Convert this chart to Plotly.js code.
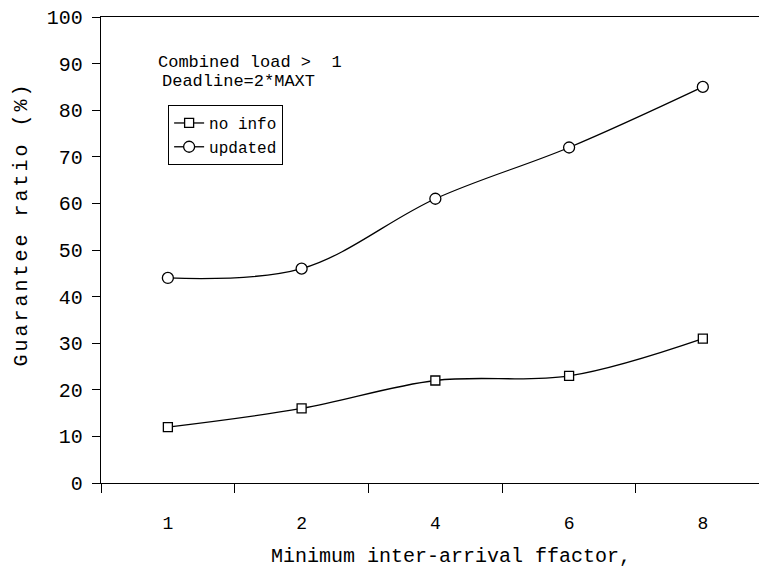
<!DOCTYPE html>
<html>
<head>
<meta charset="utf-8">
<script src="https://cdn.plot.ly/plotly-3.0.1.min.js"></script>
<style>
  html, body { margin: 0; padding: 0; background: #fff; }
  #chart { width: 759px; height: 569px; }
</style>
</head>
<body>
<div id="chart"></div>
<script>
// Minimum inter-arrival factor categories
const factors = ['1', '2', '4', '6', '8'];
// Guarantee ratio (%) per policy
const noInfo = [12, 16, 22, 23, 31];
const updated = [44, 46, 61, 72, 85];
const seriesNames = ['no info', 'updated'];

const FONT = '"Liberation Mono", "Courier New", monospace';

const lineStyle = { color: '#000', width: 1.3, shape: 'spline', smoothing: 1 };

const traces = [
  {
    x: factors, y: noInfo, name: seriesNames[0],
    type: 'scatter', mode: 'lines+markers',
    line: lineStyle,
    marker: { symbol: 'square', size: 9, color: '#fff', line: { color: '#000', width: 1.3 } }
  },
  {
    x: factors, y: updated, name: seriesNames[1],
    type: 'scatter', mode: 'lines+markers',
    line: lineStyle,
    marker: { symbol: 'circle', size: 11, color: '#fff', line: { color: '#000', width: 1.3 } }
  }
];

const layout = {
  width: 759, height: 569,
  margin: { l: 101, r: 0, t: 17, b: 86 },
  paper_bgcolor: '#fff', plot_bgcolor: '#fff',
  font: { family: FONT, color: '#000', size: 18 },
  showlegend: true,
  legend: {
    x: 0.102, y: 0.811, xanchor: 'left', yanchor: 'top',
    bgcolor: '#fff', bordercolor: '#000', borderwidth: 1,
    font: { family: FONT, size: 16 },
    itemwidth: 30, tracegroupgap: 0
  },
  xaxis: {
    type: 'category',
    range: [-0.5, 4.42],
    showgrid: false, zeroline: false,
    showline: true, linecolor: '#000', linewidth: 1.3, mirror: true,
    ticks: 'outside', tickson: 'boundaries', ticklen: 9, tickcolor: '#000', tickwidth: 1,
    ticklabelstandoff: 23,
    tickfont: { family: FONT, size: 18 },
    fixedrange: true
  },
  yaxis: {
    range: [0, 100],
    dtick: 10,
    showgrid: false, zeroline: false,
    showline: true, linecolor: '#000', linewidth: 1.3,
    ticks: 'outside', ticklen: 8, tickcolor: '#000', tickwidth: 1,
    ticklabelstandoff: 5,
    tickfont: { family: FONT, size: 20 },
    fixedrange: true
  },
  annotations: [
    // axis titles
    {
      xref: 'paper', yref: 'paper', x: 0.532, y: -0.157, xanchor: 'center', yanchor: 'middle',
      text: 'Minimum inter-arrival ffactor,', showarrow: false,
      font: { family: FONT, size: 20 }
    },
    {
      xref: 'paper', yref: 'paper', x: -0.12, y: 0.556, xanchor: 'center', yanchor: 'middle',
      text: 'Guarantee ratio (%)', showarrow: false, textangle: -90,
      font: { family: FONT, size: 20 }
    },
    // condition notes
    {
      xref: 'paper', yref: 'paper', x: 0.083, y: 0.903, xanchor: 'left', yanchor: 'middle',
      text: 'Combined load >  1', showarrow: false,
      font: { family: FONT, size: 17 }
    },
    {
      xref: 'paper', yref: 'paper', x: 0.089, y: 0.861, xanchor: 'left', yanchor: 'middle',
      text: 'Deadline=2*MAXT', showarrow: false,
      font: { family: FONT, size: 17 }
    }
  ]
};

Plotly.newPlot('chart', traces, layout, { staticPlot: true, displayModeBar: false }).then(gd => {
  // the vertical axis title is set with wider letter spacing
  const titles = gd.querySelectorAll('g.annotation text.annotation-text');
  if (titles[1]) titles[1].style.letterSpacing = '3px';
});
</script>
</body>
</html>
